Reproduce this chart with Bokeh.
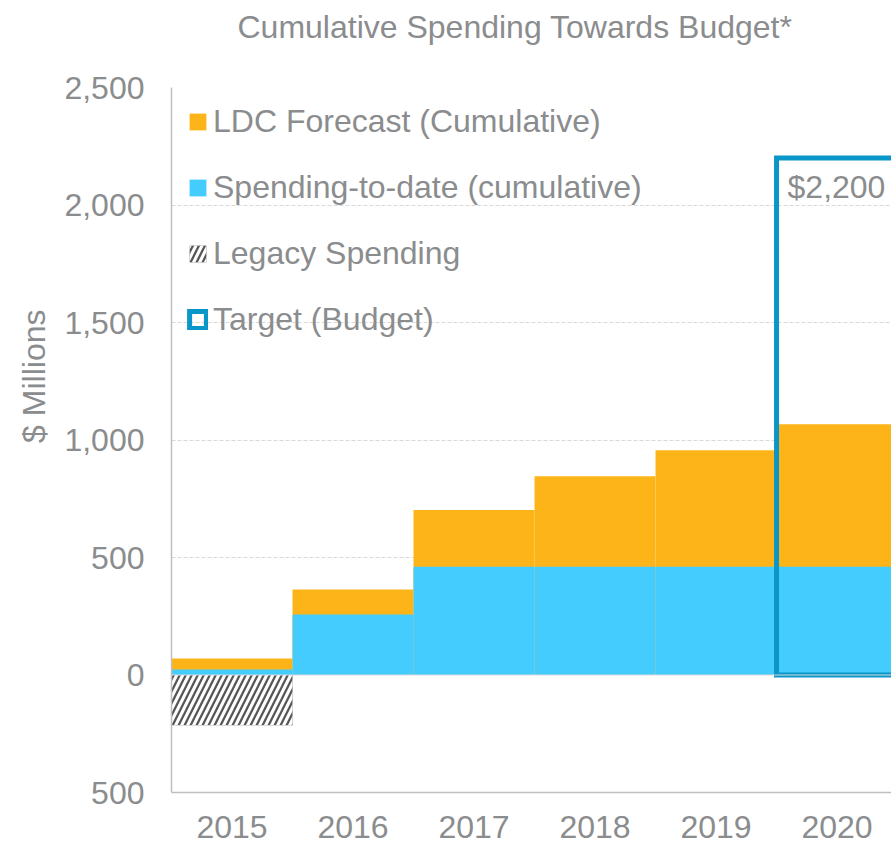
from bokeh.plotting import figure
from bokeh.models import Range1d, FixedTicker, Span, Title, Legend, LegendItem
from bokeh.core.properties import value
from bokeh.embed import file_html
from bokeh.resources import INLINE

# ---- data ----
years = ["2015", "2016", "2017", "2018", "2019", "2020"]
spending_to_date = [23, 257, 461, 461, 461, 461]
ldc_forecast = [70, 364, 702, 846, 956, 1067]
legacy_years = ["2015"]
legacy_spending = [-214]
target_year = "2020"
target_budget = 2200
y_ticks = [-500, 0, 500, 1000, 1500, 2000, 2500]
grid_ticks = [500, 1000, 1500, 2000]

FONT = "Liberation Sans"
GRAY = "#8A8C8E"
ORANGE = "#FDB418"
BLUE = "#45CCFF"
TBLUE = "#0A96C8"
HATCH_BG = "#555555"

xpos = [i + 0.5 for i in range(len(years))]

p = figure(width=891, height=844, output_backend="svg", toolbar_location=None,
           x_range=Range1d(0, 5.95), y_range=Range1d(-500, 2500),
           min_border_left=171, min_border_right=0, min_border_top=87,
           min_border_bottom=52)
p.outline_line_color = None
p.title.text = ""

# spacer between frame and title, then the title itself
p.add_layout(Title(text=" ", text_font_size="2px", standoff=39), "above")
p.add_layout(Title(text="Cumulative Spending Towards Budget*", align="left",
                   offset=66, standoff=0, vertical_align="bottom",
                   text_font=FONT, text_font_size="32px", text_font_style="normal",
                   text_color=GRAY), "above")

# grid
p.xgrid.visible = False
p.ygrid.ticker = FixedTicker(ticks=grid_ticks)
p.ygrid.grid_line_color = "#D9D9D9"
p.ygrid.grid_line_dash = "4 2"
p.ygrid.grid_line_width = 1

p.add_layout(Span(location=0, dimension="width", line_color="#D9D9D9", line_width=1))

# bars
orange = p.vbar(x=xpos, width=1, bottom=0, top=ldc_forecast,
                fill_color=ORANGE, line_color=None)
blue = p.vbar(x=xpos, width=1, bottom=0, top=spending_to_date,
              fill_color=BLUE, line_color=None)
legacy = p.vbar(x=[xpos[years.index(y)] for y in legacy_years], width=1,
                top=0, bottom=legacy_spending,
                fill_color=HATCH_BG, line_color=None,
                hatch_pattern="right_diagonal_line", hatch_color="white",
                hatch_weight=3.1, hatch_scale=12)

# target box (rect glyph: its right side stays beyond the cut-off edge)
ti = years.index(target_year)
target = p.rect(x=[xpos[ti]], y=[target_budget / 2], width=1, height=[target_budget],
                fill_color=None, line_color=TBLUE, line_width=5, line_join="miter")

p.text(x=[ti], y=[target_budget], text=[f"${target_budget:,}"],
       x_offset=11, y_offset=29, text_baseline="alphabetic", text_align="left",
       text_font=value(FONT), text_font_size="32px", text_color=GRAY)

# axes
p.yaxis.ticker = FixedTicker(ticks=y_ticks)
p.yaxis.major_label_overrides = {t: f"{abs(t):,}" for t in y_ticks}
p.xaxis.ticker = FixedTicker(ticks=xpos)
p.xaxis.major_label_overrides = {x: y for x, y in zip(xpos, years)}
for ax in (p.xaxis[0], p.yaxis[0]):
    ax.axis_line_color = "#BFBFBF"
    ax.axis_line_width = 1.5
    ax.major_tick_line_color = None
    ax.minor_tick_line_color = None
    ax.major_tick_out = 0
    ax.major_tick_in = 0
    ax.minor_tick_out = 0
    ax.major_label_text_font = FONT
    ax.major_label_text_font_size = "32px"
    ax.major_label_text_color = GRAY
p.yaxis.major_label_standoff = 27
p.xaxis.major_label_standoff = 23

p.add_layout(Title(text="$ Millions", align="right", offset=222, standoff=20,
                   text_font=FONT, text_font_size="32px", text_font_style="normal",
                   text_color=GRAY), "left")

legend = Legend(items=[
    LegendItem(label="LDC Forecast (Cumulative)", renderers=[orange]),
    LegendItem(label="Spending-to-date (cumulative)", renderers=[blue]),
    LegendItem(label="Legacy Spending", renderers=[legacy]),
    LegendItem(label="Target (Budget)", renderers=[target]),
], location="top_left")
legend.background_fill_alpha = 0
legend.border_line_color = None
legend.margin = 16
legend.padding = 17
legend.spacing = 29
legend.glyph_width = 21
legend.glyph_height = 21
legend.label_standoff = 5
legend.label_text_font = FONT
legend.label_text_font_size = "32px"
legend.label_text_color = GRAY
p.add_layout(legend)

open("out.html", "w").write(file_html(p, INLINE))
